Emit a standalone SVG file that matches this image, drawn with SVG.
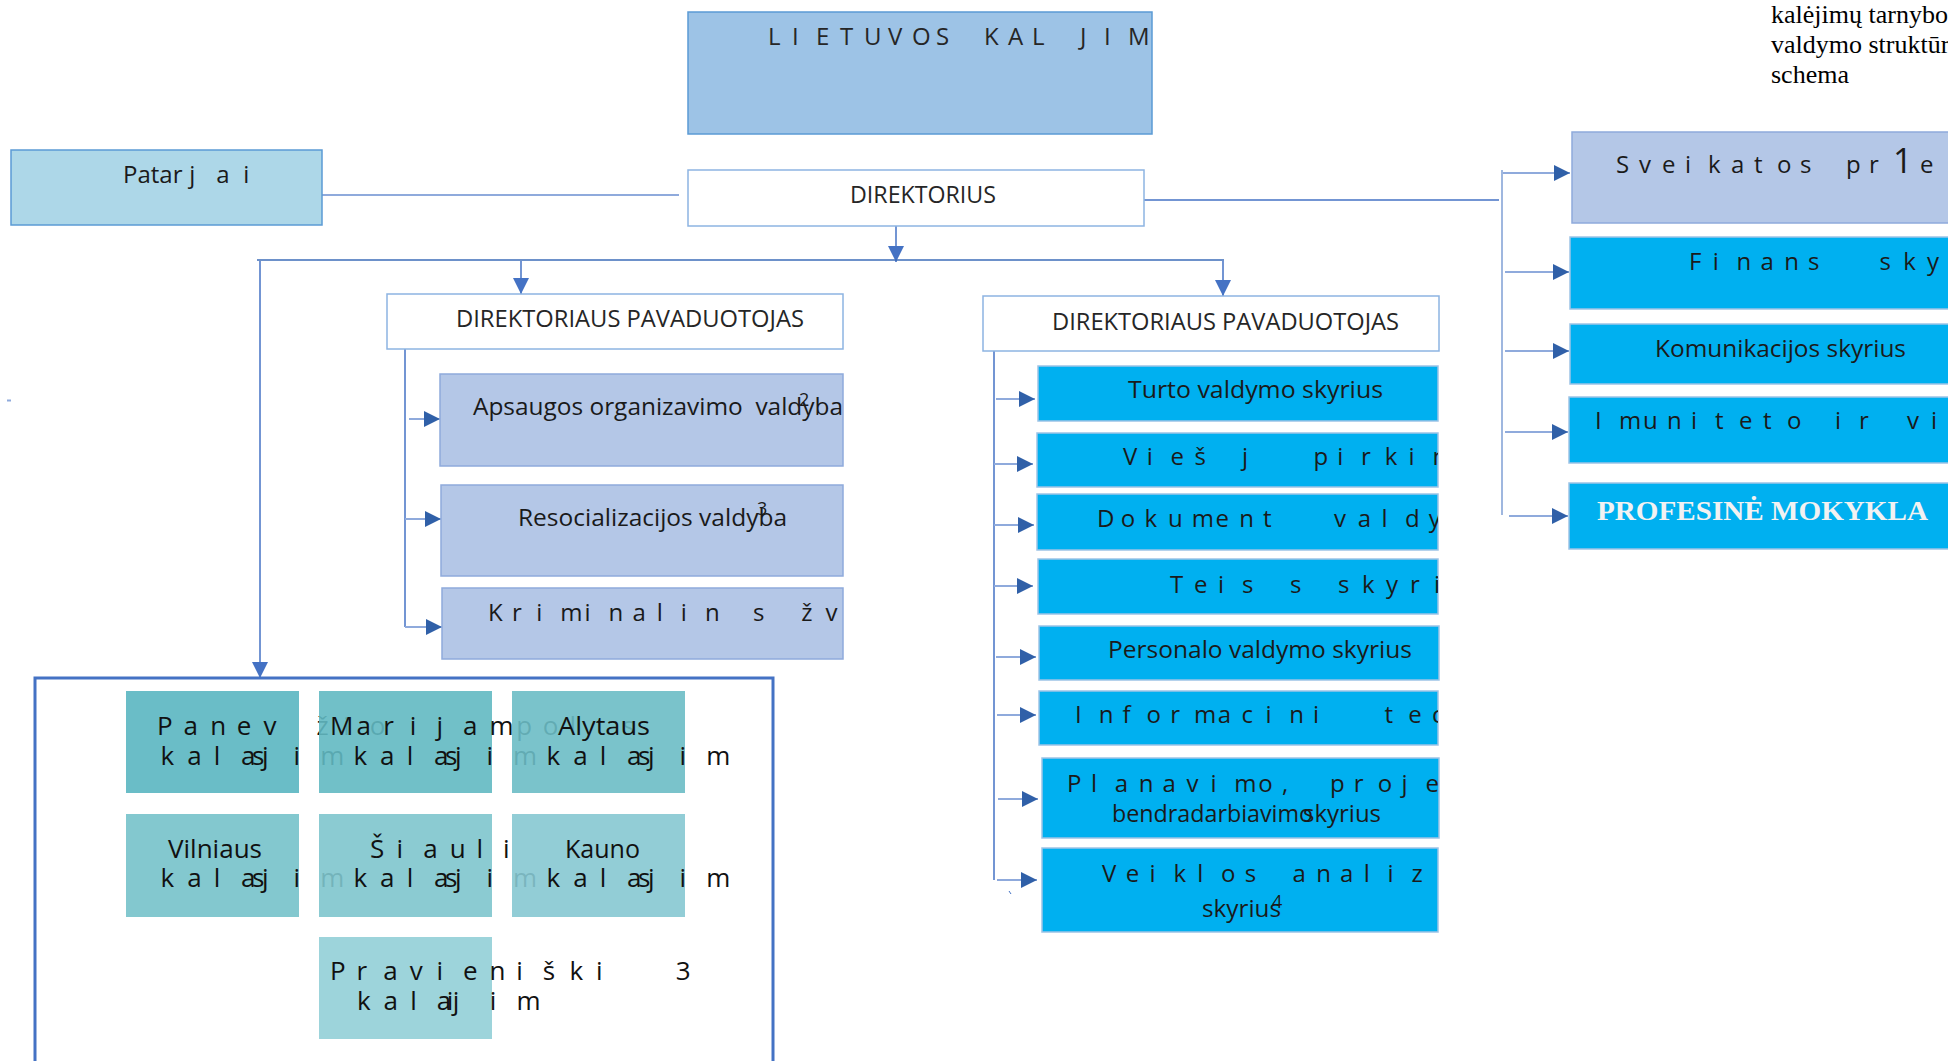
<svg xmlns="http://www.w3.org/2000/svg" width="1948" height="1061" viewBox="0 0 1948 1061" xml:space="preserve">
<style>
text{white-space:pre}
.t{font-family:'Open Sans','Liberation Sans',sans-serif;font-size:24px;fill:#1a1a1a}
.p{font-family:'Open Sans','Liberation Sans',sans-serif;font-size:26px;fill:#111}
.sup{font-family:'Open Sans','Liberation Sans',sans-serif;font-size:18px;fill:#1a1a1a}
.ser{font-family:'Liberation Serif','Times New Roman',serif;font-size:26px;fill:#000}
.lb{fill:#B4C7E7;stroke:#8FAADC;stroke-width:1.5}
.cy{fill:#00B0F0;stroke:#9DC3E6;stroke-width:1.5}
.wh{fill:#fff;stroke:#8DB4E2;stroke-width:1.5}
.tr{fill:none;stroke:#4472C4;stroke-width:1.5}
.br{fill:none;stroke:#8FAADC;stroke-width:2;marker-end:url(#ah)}
.dn{fill:none;stroke:#4472C4;stroke-width:1.5;marker-end:url(#ahd)}
</style>
<defs>
<marker id="ah" markerUnits="userSpaceOnUse" markerWidth="16" markerHeight="16" viewBox="0 0 16 16" refX="16" refY="8" orient="auto"><path d="M0,0 L16,8 L0,16 z" fill="#3060A8"/></marker>
<marker id="ahd" markerUnits="userSpaceOnUse" markerWidth="16" markerHeight="16" viewBox="0 0 16 16" refX="16" refY="8" orient="auto"><path d="M0,0 L16,8 L0,16 z" fill="#4472C4"/></marker>
<clipPath id="c2" clipPathUnits="userSpaceOnUse"><rect x="1000" y="350" width="438" height="600"/></clipPath>
</defs>
<rect x="0" y="0" width="1948" height="1061" fill="#fff"/>
<g id="connectors"><path class="br" d="M322,195 H679" style="marker-end:none"/><path class="tr" d="M1144,200 H1499"/><path class="tr" d="M1502,170 V515" style="stroke:#7F9FD4"/><path class="br" d="M1503,173 H1570"/><path class="br" d="M1505,272 H1569"/><path class="br" d="M1505,351 H1569"/><path class="br" d="M1505,432 H1568"/><path class="br" d="M1509,516 H1568"/><path class="dn" d="M896,226 V262"/><path class="tr" d="M257,260 H1224" style="stroke:#3D6DB8"/><path class="dn" d="M521,261 V294"/><path class="dn" d="M1223,261 V296"/><path class="dn" d="M260,261 V678"/><path class="tr" d="M405,349 V627"/><path class="br" d="M409,419 H440"/><path class="br" d="M405,519 H441"/><path class="br" d="M405,627 H442"/><path class="tr" d="M994,351 V880"/><path class="br" d="M996,399 H1035"/><path class="br" d="M994,464 H1033"/><path class="br" d="M994,525 H1034"/><path class="br" d="M994,586 H1033"/><path class="br" d="M996,657 H1036"/><path class="br" d="M997,715 H1036"/><path class="br" d="M998,799 H1038"/><path class="br" d="M997,880 H1037"/><path d="M7,400.5 H11" stroke="#8FAADC" stroke-width="2"/><path d="M1009,891 L1011,894" stroke="#4472C4" stroke-width="1"/></g>
<g id="caption"><text class="ser" x="1771" y="23">kalėjimų tarnybo</text><text class="ser" x="1771" y="53">valdymo struktūr</text><text class="ser" x="1771" y="83">schema</text></g>
<g id="title"><rect x="688" y="12" width="464" height="122" fill="#9DC3E6" stroke="#5B9BD5" stroke-width="1.5"/><text class="t" style="fill:#262626" y="45" x="768 780 792 804 816 828 840 852 864 876 888 900 912 924 936 948 960 972 984 996 1008 1020 1032 1044 1056 1068 1080 1092 1104 1116 1128">L I E T U V O S   K A L   J I M</text></g>
<g id="patarejai"><rect x="11" y="150" width="311" height="75" fill="#ADD7E8" stroke="#5B9BD5" stroke-width="1.5"/><text class="t" y="183"><tspan x="123">Patar</tspan><tspan x="183"> j</tspan><tspan x="210"> a</tspan><tspan x="237"> i</tspan></text></g>
<g id="direktorius"><rect class="wh" x="688" y="170" width="456" height="56"/><text class="t" x="850" y="203" textLength="146" lengthAdjust="spacingAndGlyphs" style="fill:#262626">DIREKTORIUS</text></g>
<g id="pavaduotojas1"><rect class="wh" x="387" y="294" width="456" height="55"/><text class="t" x="456" y="327" textLength="348" lengthAdjust="spacingAndGlyphs" style="fill:#262626">DIREKTORIAUS PAVADUOTOJAS</text></g>
<g id="pavaduotojas2"><rect class="wh" x="983" y="296" width="456" height="55"/><text class="t" x="1052" y="330" textLength="347" lengthAdjust="spacingAndGlyphs" style="fill:#262626">DIREKTORIAUS PAVADUOTOJAS</text></g>
<g id="apsaugos"><rect class="lb" x="440" y="374" width="403" height="92"/><text class="t" x="473" y="415" textLength="370" lengthAdjust="spacingAndGlyphs">Apsaugos organizavimo  valdyba</text><text class="sup" x="799" y="406">2</text></g>
<g id="resocializacijos"><rect class="lb" x="441" y="485" width="402" height="91"/><text class="t" x="518" y="526" textLength="269" lengthAdjust="spacingAndGlyphs">Resocializacijos valdyba</text><text class="sup" x="757" y="515">3</text></g>
<g id="kriminalines"><rect class="lb" x="442" y="588" width="401" height="71"/><text class="t" y="621" x="488 500 512.1 524.2 536.2 548.3 560.3 572.4 584.4 596.5 608.5 620.6 632.6 644.7 656.7 668.8 680.8 692.9 704.9 717 729 741 753.1 765.2 777.2 789.3 801.3 813.4 825.4">K r i m i n a l i n   s   ž v</text></g>
<g id="turto"><rect class="cy" x="1038" y="366" width="400" height="55"/><text class="t" x="1128" y="398" textLength="255" lengthAdjust="spacingAndGlyphs">Turto valdymo skyrius</text></g>
<g id="viesuju"><rect class="cy" x="1037" y="433" width="401" height="54"/><text class="t" clip-path="url(#c2)" y="465" x="1123 1134.9 1146.8 1158.7 1170.6 1182.5 1194.4 1206.3 1218.2 1230.1 1242 1253.9 1265.8 1277.7 1289.6 1301.5 1313.4 1325.3 1337.2 1349.1 1361 1372.9 1384.8 1396.7 1408.6 1420.5 1432.4">V i e š   j     p i r k i m</text></g>
<g id="dokumentu"><rect class="cy" x="1037" y="494" width="401" height="56"/><text class="t" clip-path="url(#c2)" y="527" x="1097 1108.85 1120.7 1132.55 1144.4 1156.25 1168.1 1179.95 1191.8 1203.65 1215.5 1227.35 1239.2 1251.05 1262.9 1274.75 1286.6 1298.45 1310.3 1322.15 1334 1345.85 1357.7 1369.55 1381.4 1393.25 1405.1 1416.95 1428.8">D o k u m e n t     v a l d y</text></g>
<g id="teises"><rect class="cy" x="1038" y="559" width="400" height="55"/><text class="t" clip-path="url(#c2)" y="593" x="1170 1182 1194 1206 1218 1230 1242 1254 1266 1278 1290 1302 1314 1326 1338 1350 1362 1374 1386 1398 1410 1422 1434">T e i s   s   s k y r i</text></g>
<g id="personalo"><rect class="cy" x="1039" y="626" width="400" height="54"/><text class="t" x="1108" y="658" textLength="304" lengthAdjust="spacingAndGlyphs">Personalo valdymo skyrius</text></g>
<g id="informaciniu"><rect class="cy" x="1039" y="691" width="399" height="54"/><text class="t" clip-path="url(#c2)" y="723" x="1075 1086.9 1098.8 1110.7 1122.6 1134.5 1146.4 1158.3 1170.2 1182.1 1194 1205.9 1217.8 1229.7 1241.6 1253.5 1265.4 1277.3 1289.2 1301.1 1313 1324.9 1336.8 1348.7 1360.6 1372.5 1384.4 1396.3 1408.2 1420.1 1432">I n f o r m a c i n i     t e c</text></g>
<g id="planavimo"><rect class="cy" x="1042" y="758" width="397" height="80"/><text class="t" clip-path="url(#c2)" y="792" x="1067 1078.95 1090.9 1102.85 1114.8 1126.75 1138.7 1150.65 1162.6 1174.55 1186.5 1198.45 1210.4 1222.35 1234.3 1246.25 1258.2 1270.15 1282.1 1294.05 1306 1317.95 1329.9 1341.85 1353.8 1365.75 1377.7 1389.65 1401.6 1413.55 1425.5">P l a n a v i m o ,   p r o j e</text><text class="t" x="1112" y="822" textLength="201" lengthAdjust="spacingAndGlyphs">bendradarbiavimo</text><text class="t" x="1303" y="822" textLength="78" lengthAdjust="spacingAndGlyphs">skyrius</text></g>
<g id="veiklos"><rect class="cy" x="1042" y="848" width="396" height="84"/><text class="t" y="882" x="1102 1113.9 1125.8 1137.7 1149.6 1161.5 1173.4 1185.3 1197.2 1209.1 1221 1232.9 1244.8 1256.7 1268.6 1280.5 1292.4 1304.3 1316.2 1328.1 1340 1351.9 1363.8 1375.7 1387.6 1399.5 1411.4">V e i k l o s   a n a l i z</text><text class="t" x="1202" y="917" textLength="79" lengthAdjust="spacingAndGlyphs">skyrius</text><text class="sup" x="1272" y="908">4</text></g>
<g id="sveikatos"><rect class="lb" x="1572" y="132" width="400" height="91"/><text class="t" y="173"><tspan x="1616 1627.5 1639 1650.5 1662 1673.5 1685 1696.5 1708 1719.5 1731 1742.5 1754 1765.5 1777 1788.5 1800 1811.5 1823 1834.5 1846 1857.5 1869">S v e i k a t o s   p r</tspan><tspan x="1882 1893" style="font-size:34px"> 1</tspan><tspan x="1910 1920"> e</tspan></text></g>
<g id="finansu"><rect class="cy" x="1570" y="237" width="400" height="72"/><text class="t" y="270" x="1689 1700.9 1712.8 1724.7 1736.6 1748.5 1760.4 1772.3 1784.2 1796.1 1808 1819.9 1831.8 1843.7 1855.6 1867.5 1879.4 1891.3 1903.2 1915.1 1927">F i n a n s     s k y</text></g>
<g id="komunikacijos"><rect class="cy" x="1570" y="324" width="400" height="60"/><text class="t" x="1655" y="357" textLength="251" lengthAdjust="spacingAndGlyphs">Komunikacijos skyrius</text></g>
<g id="imuniteto"><rect class="cy" x="1569" y="397" width="400" height="66"/><text class="t" y="429" x="1595 1607 1619 1631 1643 1655 1667 1679 1691 1703 1715 1727 1739 1751 1763 1775 1787 1799 1811 1823 1835 1847 1859 1871 1883 1895 1907 1919 1931">I m u n i t e t o   i r   v i</text></g>
<g id="profesine"><rect class="cy" x="1569" y="483" width="400" height="66"/><text x="1597" y="520" textLength="331" lengthAdjust="spacingAndGlyphs" style="font-family:'Liberation Serif','Times New Roman',serif;font-size:28px;font-weight:bold;fill:#F2F2F2">PROFESINĖ MOKYKLA</text></g>
<g id="kalejimai"><rect x="35" y="678" width="738" height="400" fill="none" stroke="#4472C4" stroke-width="3"/>
<g id="panevezio"><rect x="126" y="691" width="173" height="102" fill="#6ABDC7"/><text class="p" y="735" x="157 170.3 183.6 196.9 210.2 223.5 236.8 250.1 263.4 276.7 290 303.3 316.6 329.9 343.2 356.5 369.8">P a n e v   ž i o</text><text class="p" y="765" x="160.6 173.9 187.2 200.5 213.8 227.1 241 252 262 280.3 293.6 306.9 320.2">k a l asj i m</text></g>
<g id="marijampoles"><rect x="319" y="691" width="173" height="102" fill="#62B9C2" fill-opacity="0.9"/><text class="p" y="735" x="330 343.3 356.6 369.9 383.2 396.5 409.8 423.1 436.4 449.7 463 476.3 489.6 502.9 516.2 529.5 542.8 556.1 569.4 582.7 596 609.3 622.6">M a r i j a m p o l   s</text><text class="p" y="765" x="353.5 366.8 380.1 393.4 406.7 420 433.9 444.9 454.9 473.2 486.5 499.8 513.1">k a l asj i m</text></g>
<g id="alytaus"><rect x="512" y="691" width="173" height="102" fill="#6BBDC5" fill-opacity="0.9"/><text class="p" x="558" y="735" textLength="92" lengthAdjust="spacingAndGlyphs">Alytaus</text><text class="p" y="765" x="546.6 559.9 573.2 586.5 599.8 613.1 627 638 648 666.3 679.6 692.9 706.2">k a l asj i m</text></g>
<g id="vilniaus"><rect x="126" y="814" width="173" height="103" fill="#83C8CF"/><text class="p" x="168" y="858" textLength="94" lengthAdjust="spacingAndGlyphs">Vilniaus</text><text class="p" y="887" x="160.6 173.9 187.2 200.5 213.8 227.1 241 252 262 280.3 293.6 306.9 320.2">k a l asj i m</text></g>
<g id="siauliu"><rect x="319" y="814" width="173" height="103" fill="#7EC5CD" fill-opacity="0.9"/><text class="p" y="858" x="370 383.3 396.6 409.9 423.2 436.5 449.8 463.1 476.4 489.7 503">Š i a u l i</text><text class="p" y="887" x="353.5 366.8 380.1 393.4 406.7 420 433.9 444.9 454.9 473.2 486.5 499.8 513.1">k a l asj i m</text></g>
<g id="kauno"><rect x="512" y="814" width="173" height="103" fill="#86C8D1" fill-opacity="0.9"/><text class="p" x="565" y="858" textLength="75" lengthAdjust="spacingAndGlyphs">Kauno</text><text class="p" y="887" x="546.6 559.9 573.2 586.5 599.8 613.1 627 638 648 666.3 679.6 692.9 706.2">k a l asj i m</text></g>
<g id="pravieniskiu"><rect x="319" y="937" width="173" height="102" fill="#9DD4DB"/><text class="p" y="980" x="330 343.3 356.6 369.9 383.2 396.5 409.8 423.1 436.4 449.7 463 476.3 489.6 502.9 516.2 529.5 542.8 556.1 569.4 582.7 596 609.3 622.6 635.9 649.2 662.5 675.8">P r a v i e n i š k i     3</text><text class="p" y="1010" x="357 370.3 383.6 396.9 410.2 423.5 436.7 446.7 452.7 476.5 489.8 503.1 516.4">k a l aij i m</text></g>
</g>
</svg>
